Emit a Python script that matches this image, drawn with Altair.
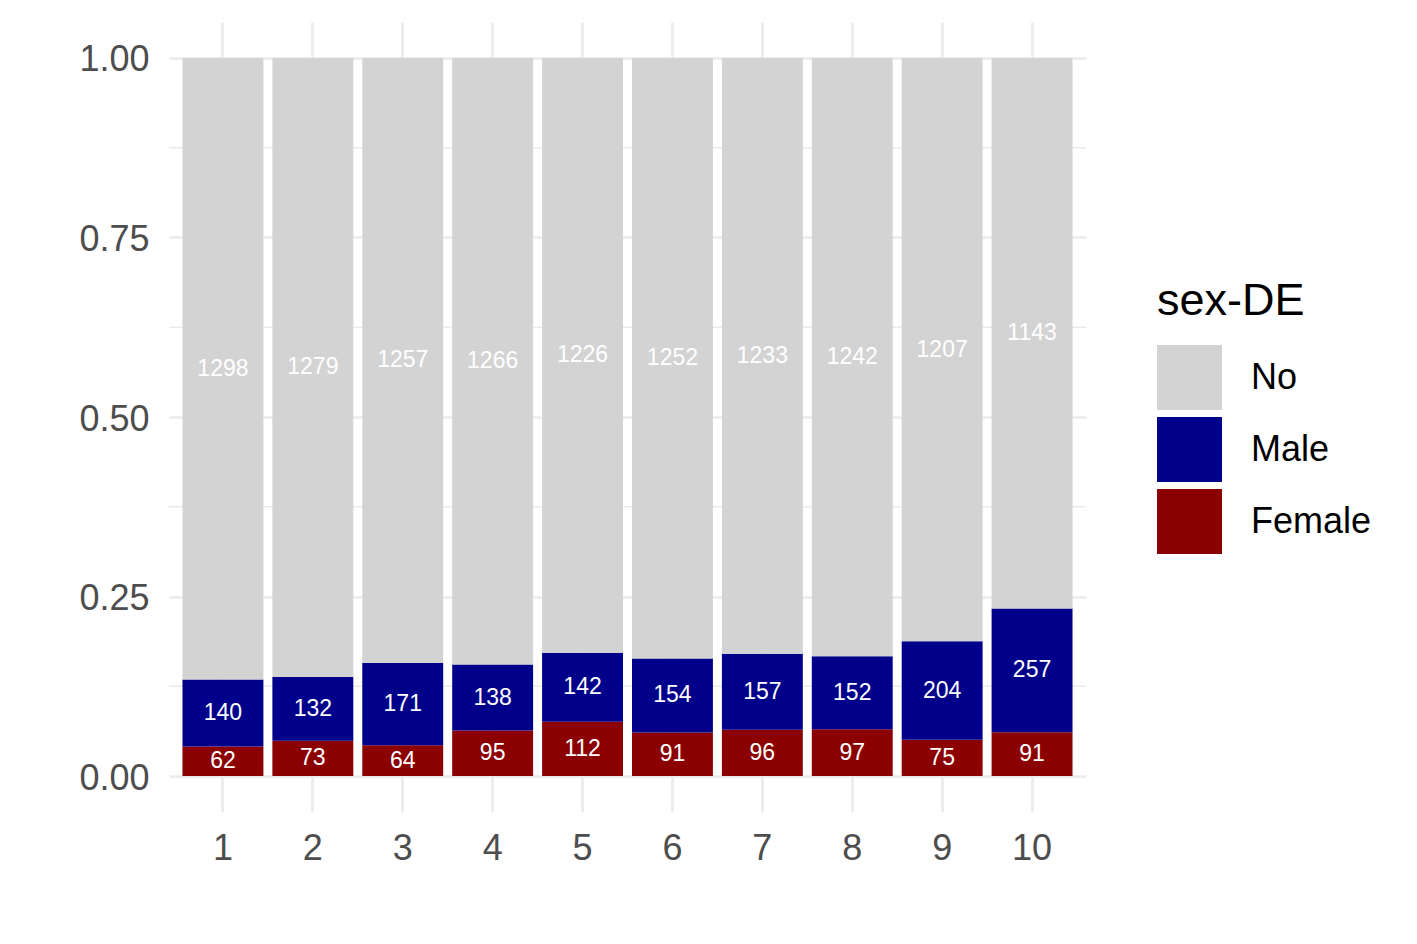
import altair as alt
import pandas as pd

deciles = ["1", "2", "3", "4", "5", "6", "7", "8", "9", "10"]
no_counts = [1298, 1279, 1257, 1266, 1226, 1252, 1233, 1242, 1207, 1143]
male_counts = [140, 132, 171, 138, 142, 154, 157, 152, 204, 257]
female_counts = [62, 73, 64, 95, 112, 91, 96, 97, 75, 91]
groups = ["No", "Male", "Female"]
colors = ["#D3D3D3", "#00008B", "#8B0000"]
y_ticks = [0, 0.25, 0.5, 0.75, 1.0]
minor_ticks = [0.125, 0.375, 0.625, 0.875]

rows = []
for i, d in enumerate(deciles):
    for g, arr, order in [("Female", female_counts, 0), ("Male", male_counts, 1), ("No", no_counts, 2)]:
        rows.append({"decile": d, "sex": g, "n": arr[i], "order": order})
df = pd.DataFrame(rows)

FONT = "Liberation Sans"
GRID = "#EBEBEB"

yscale = alt.Scale(domain=[-0.05, 1.05], nice=False, zero=False)
y_axis = alt.Axis(
    title=None, values=y_ticks, format=".2f", grid=True, gridColor=GRID,
    gridWidth=2.7, ticks=False, domain=False, labelFontSize=36,
    labelColor="#4D4D4D", labelPadding=20, labelFont=FONT, labelOffset=2,
)

x_enc = alt.X(
    "decile:N",
    sort=deciles,
    scale=alt.Scale(paddingInner=0.1, paddingOuter=0.15),
    axis=alt.Axis(
        title=None, labelAngle=0, bandPosition=0.5, grid=True, gridColor=GRID,
        gridWidth=2.7, ticks=False, domain=False, labelFontSize=36,
        labelColor="#4D4D4D", labelPadding=19, labelFont=FONT,
    ),
)

base = (
    alt.Chart(df)
    .transform_joinaggregate(total="sum(n)", groupby=["decile"])
    .transform_calculate(frac="datum.n / datum.total")
    .transform_window(
        cum="sum(frac)", groupby=["decile"], sort=[alt.SortField("order")], frame=[None, 0]
    )
    .transform_calculate(lo="datum.cum - datum.frac", mid="datum.cum - datum.frac / 2")
)

bars = base.mark_bar().encode(
    x=x_enc,
    y=alt.Y("cum:Q", scale=yscale, axis=y_axis),
    y2="lo:Q",
    color=alt.Color(
        "sex:N",
        scale=alt.Scale(domain=groups, range=colors),
        legend=alt.Legend(
            title="sex-DE", orient="none", legendX=988, legendY=257,
            symbolType="square", symbolSize=4225, symbolStrokeWidth=0,
            labelFontSize=36, titleFontSize=45, titleFontWeight="normal",
            labelFont=FONT, titleFont=FONT, labelColor="black", titleColor="black",
            labelOffset=29, rowPadding=7, titlePadding=21, padding=0,
        ),
    ),
)

labels = base.mark_text(color="white", fontSize=23, font=FONT, baseline="middle").encode(
    x=alt.X("decile:N", sort=deciles),
    y=alt.Y("mid:Q", scale=yscale, axis=y_axis),
    text="n:Q",
)

minor = (
    alt.Chart(pd.DataFrame({"v": minor_ticks}))
    .mark_rule(color=GRID, strokeWidth=1.4)
    .encode(y=alt.Y("v:Q", scale=yscale, axis=y_axis))
)

chart = (
    alt.layer(minor, bars, labels)
    .properties(
        width=917, height=790,
        autosize=alt.AutoSizeParams(type="none"),
        padding={"left": 169, "top": 22, "right": 331, "bottom": 132},
        background="white",
    )
    .configure_view(stroke=None)
)

chart.save("out.html", embed_options={"renderer": "svg", "actions": False})
